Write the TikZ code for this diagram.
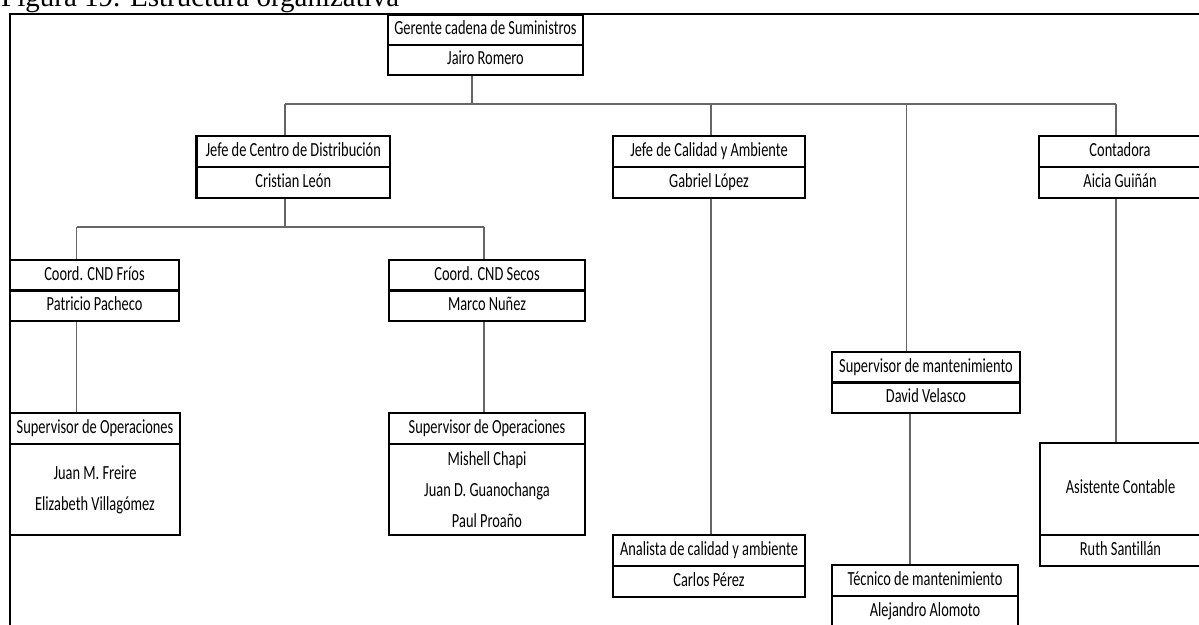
\documentclass[tikz,border=0pt]{standalone}
\usepackage{fontspec}
\newfontfamily\orgfont[FakeStretch=0.72,Ligatures=NoCommon]{Carlito}
\newfontfamily\capfont{Liberation Serif}
\pgfdeclarelayer{bg}
\pgfsetlayers{bg,main}
\begin{document}
\begin{tikzpicture}[x=1pt,y=-1pt,
  cell/.style={draw=black, line width=2.3pt, fill=white, inner sep=0pt, outer sep=0pt,
               align=center, font=\orgfont\fontsize{20}{31}\selectfont},
  rowcell/.style={cell, text height=14pt, text depth=4.5pt},
  conn/.style={draw=black!60, line width=1.1pt},
  frameline/.style={draw=black, line width=2.6pt}]
\useasboundingbox (0,0) rectangle (1199,624);
\clip (0,0) rectangle (1199,624);

% caption above the frame
\node[anchor=base west, inner sep=0pt, font=\capfont\fontsize{29}{30}\selectfont] (cap) at (1,6) {Figura 19. Estructura organizativa};

% top level
\node[rowcell, minimum width=195, minimum height=30] (ger1) at (485.5,30) {Gerente cadena de Suministros};
\node[rowcell, minimum width=195, minimum height=30] (ger2) at (485.5,60) {Jairo Romero};

% second level
\node[rowcell, minimum width=193.5, minimum height=31] (jcd1) at (293.25,151.5) {Jefe de Centro de Distribución};
\node[rowcell, minimum width=193.5, minimum height=31] (jcd2) at (293.25,182.5) {Cristian León};
\node[rowcell, minimum width=192, minimum height=31] (jca1) at (709,151.5) {Jefe de Calidad y Ambiente};
\node[rowcell, minimum width=192, minimum height=31] (jca2) at (709,182.5) {Gabriel López};
\node[rowcell, minimum width=162, minimum height=31] (con1) at (1120,151.5) {Contadora};
\node[rowcell, minimum width=162, minimum height=31] (con2) at (1120,182.5) {Aicia Guiñán};

% coordinators
\node[rowcell, minimum width=169, minimum height=30.5] (cf1) at (94.5,275.25) {Coord. CND Fríos};
\node[rowcell, minimum width=169, minimum height=30.5] (cf2) at (94.5,305.75) {Patricio Pacheco};
\node[rowcell, minimum width=196, minimum height=30.5] (cs1) at (487,275.25) {Coord. CND Secos};
\node[rowcell, minimum width=196, minimum height=30.5] (cs2) at (487,305.75) {Marco Nuñez};

% operations supervisors
\node[rowcell, minimum width=170, minimum height=31] (sof1) at (95,428.5) {Supervisor de Operaciones};
\node[cell, minimum width=170, minimum height=91] (sof2) at (95,489.5) {Juan M. Freire\\Elizabeth Villagómez};
\node[rowcell, minimum width=196, minimum height=31] (sos1) at (487,428.5) {Supervisor de Operaciones};
\node[cell, minimum width=196, minimum height=91] (sos2) at (487,489.5) {Mishell Chapi\\Juan D. Guanochanga\\Paul Proaño};

% maintenance
\node[rowcell, minimum width=188, minimum height=30.5] (sm1) at (926,367.25) {Supervisor de mantenimiento};
\node[rowcell, minimum width=188, minimum height=30.5] (sm2) at (926,397.75) {David Velasco};
\node[rowcell, minimum width=186, minimum height=31] (tec1) at (925,580.5) {Técnico de mantenimiento};
\node[rowcell, minimum width=186, minimum height=31] (tec2) at (925,611.5) {Alejandro Alomoto};

% quality analyst
\node[rowcell, minimum width=192, minimum height=31] (an1) at (709,550.5) {Analista de calidad y ambiente};
\node[rowcell, minimum width=192, minimum height=31] (an2) at (709,581.5) {Carlos Pérez};

% accounting assistant
\node[rowcell, minimum width=161, minimum height=92] (asi1) at (1120.5,489) {Asistente Contable};
\node[rowcell, minimum width=161, minimum height=31] (asi2) at (1120.5,550.5) {Ruth Santillán};

% junction points of the connector buses
\coordinate (b0) at (472,104);
\coordinate (bA) at (285,104);
\coordinate (bB) at (711,104);
\coordinate (bC) at (906.5,104);
\coordinate (bD) at (1116,104);
\coordinate (s0) at (285,227);
\coordinate (sA) at (76.7,227);
\coordinate (sB) at (484,227);
\coordinate (tC) at (910,413);

\begin{pgfonlayer}{bg}
  \draw[frameline] (10,14) rectangle (1240,660);
  % main bus
  \draw[conn] (ger2.south -| b0) -- (b0);
  \draw[conn] (bA) -- (bD);
  \draw[conn] (bA) -- (bA |- jcd1.north);
  \draw[conn] (bB) -- (bB |- jca1.north);
  \draw[conn] (bC) -- (bC |- sm1.north);
  \draw[conn] (bD) -- (bD |- con1.north);
  % distribution branch
  \draw[conn] (jcd2.south -| s0) -- (s0);
  \draw[conn] (sA) -- (sB);
  \draw[conn] (sA) -- (sA |- cf1.north);
  \draw[conn] (sB) -- (sB |- cs1.north);
  \draw[conn] (cf2.south -| sA) -- (sA |- sof1.north);
  \draw[conn] (cs2.south -| sB) -- (sB |- sos1.north);
  % quality, maintenance and accounting branches
  \draw[conn] (jca2.south -| bB) -- (bB |- an1.north);
  \draw[conn] (tC) -- (tC |- tec1.north);
  \draw[conn] (con2.south -| bD) -- (bD |- asi1.north);
\end{pgfonlayer}
\end{tikzpicture}
\end{document}
